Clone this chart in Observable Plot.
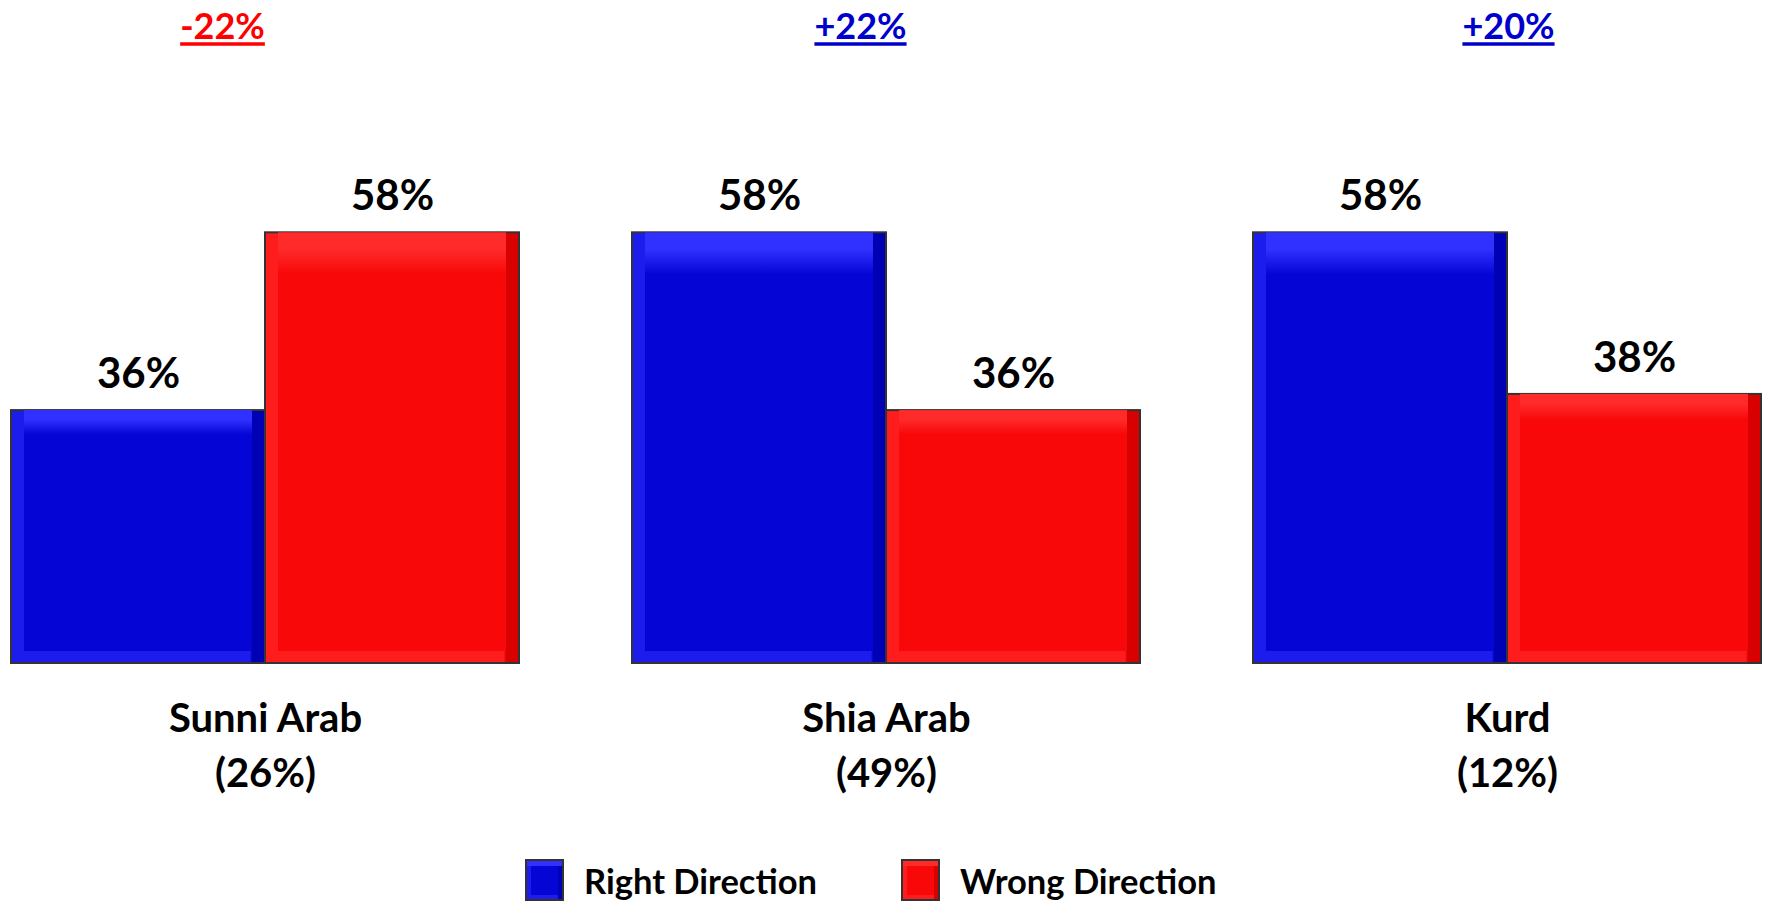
<!DOCTYPE html>
<html><head><meta charset="utf-8">
<script src="https://cdn.jsdelivr.net/npm/d3@7"></script>
<script src="https://cdn.jsdelivr.net/npm/@observablehq/plot@0.6"></script>
<style>
body{margin:0;background:#fff;font-family:Lato,"Open Sans",sans-serif;}
#chart svg{display:block}
#legend{display:flex;align-items:center;height:48px;padding-left:525px;font-weight:bold;font-size:34.5px;color:#000;}
.sw{width:35px;height:38px;border:2px solid #333;margin-right:20px;}
.lab{margin-right:84px;}
</style></head><body>
<div id="chart"></div>
<div id="legend"></div>
<script>
const groups = ["Sunni Arab\n(26%)", "Shia Arab\n(49%)", "Kurd\n(12%)"];
const series = ["Right Direction", "Wrong Direction"];
const rightValues = [36, 58, 58];
const wrongValues = [58, 36, 38];
const changeLabels = ["-22%", "+22%", "+20%"];
const changeColors = ["#ff0000", "#0000cc", "#0000cc"];
const seriesColors = ["#0505d6", "#f80808"];
const edgeLight = ["#1c1cec", "#ff1c1c"];
const edgeTop = ["#3030ff", "#ff2a2a"];
const edgeDark = ["#0000b4", "#d80000"];

const data = groups.flatMap((g, i) => [
  {group: g, series: series[0], value: rightValues[i]},
  {group: g, series: series[1], value: wrongValues[i]}
]);
const changes = groups.map((g, i) => ({group: g, label: changeLabels[i]}));
const changeDx = [-43, -26, 1];

const marks = [];
series.forEach((s, si) => {
  const sub = data.filter(d => d.series === s);
  marks.push(Plot.barY(sub, {fx: "group", x: "series", y: "value", fill: `url(#edge${si})`, stroke: "#333", strokeWidth: 2}));
  marks.push(Plot.barY(sub, {fx: "group", x: "series", y: "value", fill: `url(#top${si})`, insetBottom: 12, insetLeft: 13, insetRight: 13}));
});
marks.push(Plot.text(data, {fx: "group", x: "series", y: "value", text: d => `${d.value}%`, lineAnchor: "middle", dy: -36, fontSize: 42, fontWeight: "bold", fill: "black"}));
changes.forEach((c, i) => {
  marks.push(Plot.text([c], {fx: "group", text: "label", frameAnchor: "top", lineAnchor: "top", dy: 13, dx: changeDx[i], fontSize: 36, fontWeight: "bold", fill: changeColors[i]}));
});
marks.push(Plot.axisFx({anchor: "bottom", tickSize: 0, tickPadding: 30, fontSize: 40, fontWeight: "bold", lineHeight: 1.36, label: null, fill: "black"}));

const plot = Plot.plot({
  width: 1767, height: 856,
  marginTop: 0, marginBottom: 193, marginLeft: 11, marginRight: 6,
  fx: {domain: groups, paddingInner: 0.182, paddingOuter: 0, label: null},
  x: {domain: series, padding: 0, axis: null},
  y: {domain: [4.7, 86.75], clamp: true, axis: null},
  style: {fontFamily: "Lato, sans-serif", background: "white", color: "black"},
  marks
});

const ns = "http://www.w3.org/2000/svg";
const defs = document.createElementNS(ns, "defs");
function gradient(id, vertical, stops) {
  const g = document.createElementNS(ns, "linearGradient");
  g.setAttribute("id", id);
  g.setAttribute("x1", "0"); g.setAttribute("y1", "0");
  g.setAttribute("x2", vertical ? "0" : "1"); g.setAttribute("y2", vertical ? "1" : "0");
  stops.forEach(([o, c]) => {
    const st = document.createElementNS(ns, "stop");
    st.setAttribute("offset", o); st.setAttribute("stop-color", c);
    g.appendChild(st);
  });
  defs.appendChild(g);
}
series.forEach((s, si) => {
  gradient(`edge${si}`, false, [[0, edgeLight[si]], [0.94, edgeLight[si]], [0.95, edgeDark[si]], [1, edgeDark[si]]]);
  gradient(`top${si}`, true, [[0, edgeTop[si]], [0.04, edgeTop[si]], [0.1, seriesColors[si]], [1, seriesColors[si]]]);
});
plot.insertBefore(defs, plot.firstChild);
document.getElementById("chart").appendChild(plot);

// underline the change labels, sized from each text's own box
Array.from(plot.querySelectorAll("text"))
  .filter(t => changeLabels.includes(t.textContent.trim()))
  .forEach(t => {
    const b = t.getBBox();
    const col = getComputedStyle(t).fill;
    const line = document.createElementNS(ns, "line");
    line.setAttribute("x1", b.x);
    line.setAttribute("x2", b.x + b.width);
    line.setAttribute("y1", b.y + b.height - 3);
    line.setAttribute("y2", b.y + b.height - 3);
    line.setAttribute("stroke", col);
    line.setAttribute("stroke-width", 3.5);
    const tr = t.getAttribute("transform");
    if (tr) line.setAttribute("transform", tr);
    t.parentNode.appendChild(line);
  });

const legend = document.getElementById("legend");
series.forEach((s, si) => {
  const sw = document.createElement("div");
  sw.className = "sw";
  sw.style.background = seriesColors[si];
  sw.style.boxShadow = `inset 0 5px 0 ${edgeTop[si]}, inset 4px 0 0 ${edgeLight[si]}, inset -4px 0 0 ${edgeDark[si]}, inset 0 -4px 0 ${edgeLight[si]}`;
  const lab = document.createElement("span");
  lab.className = "lab";
  lab.textContent = s;
  legend.appendChild(sw);
  legend.appendChild(lab);
});
</script>
</body></html>
